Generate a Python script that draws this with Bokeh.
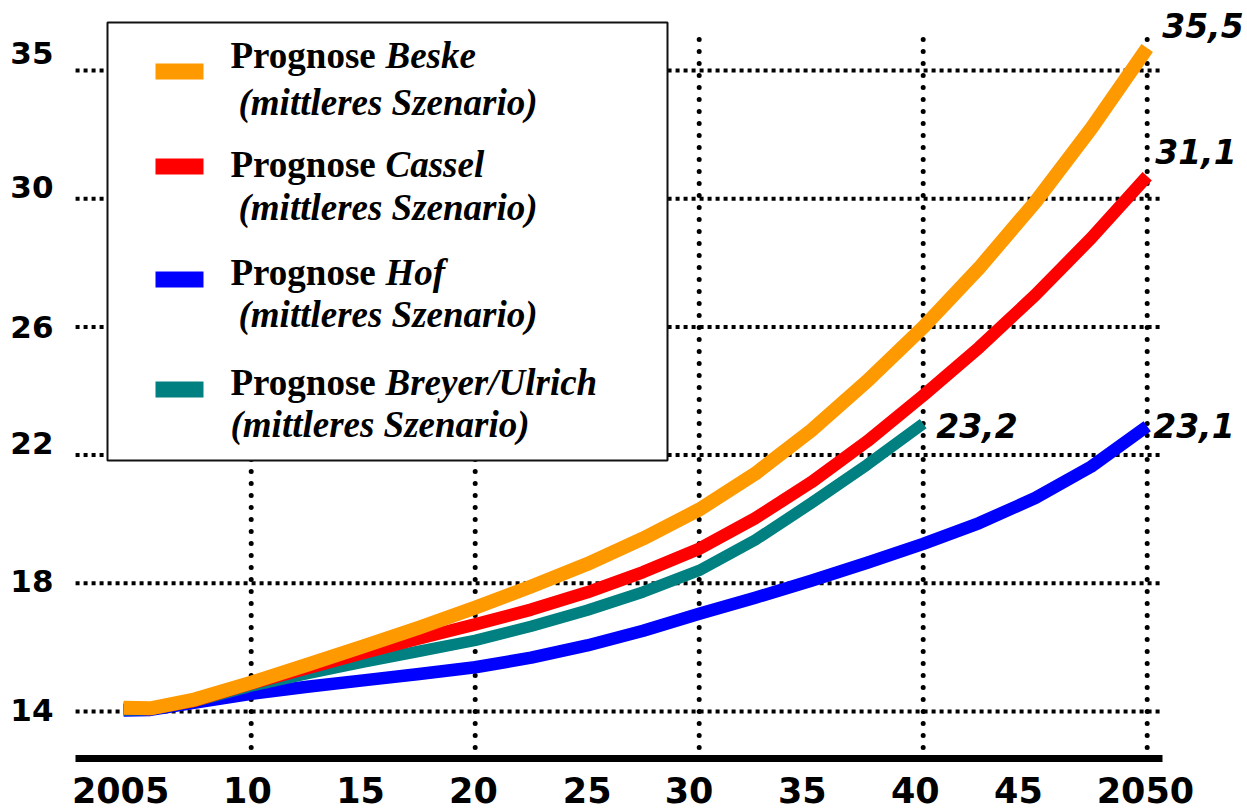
from bokeh.plotting import figure
from bokeh.models import Range1d, FixedTicker, Label, BoxAnnotation, ColumnDataSource
from bokeh.core.properties import value
from bokeh.embed import file_html
from bokeh.resources import INLINE

# ---------------- data ----------------
years = [2004.3, 2005.5, 2007.5, 2010, 2012.5, 2015, 2017.5, 2020, 2022.5, 2025, 2027.5,
         2030, 2032.5, 2035, 2037.5, 2040, 2042.5, 2045, 2047.5, 2050]
beske = [14.12, 14.1, 14.38, 14.9, 15.46, 16.03, 16.62, 17.24, 17.9, 18.6, 19.4,
         20.3, 21.42, 22.77, 24.31, 25.99, 27.84, 29.89, 32.19, 34.7]
cassel = [14.1, 14.08, 14.34, 14.87, 15.35, 15.83, 16.28, 16.72, 17.18, 17.72, 18.35,
          19.08, 20.03, 21.15, 22.43, 23.86, 25.36, 26.99, 28.77, 30.7]
hof = [14.03, 14.05, 14.28, 14.55, 14.77, 14.97, 15.17, 15.38, 15.68, 16.06, 16.52,
       17.05, 17.55, 18.08, 18.64, 19.23, 19.88, 20.66, 21.64, 22.9]
breyer_years = [2004.3, 2005.5, 2007.5, 2010, 2012.5, 2015, 2017.5, 2020, 2022.5, 2025, 2027.5,
                2030, 2032.5, 2035, 2037.5, 2040]
breyer = [14.05, 14.06, 14.32, 14.8, 15.18, 15.54, 15.88, 16.22, 16.66, 17.16, 17.73,
          18.4, 19.35, 20.5, 21.7, 22.98]

end_labels = ["35,5", "31,1", "23,2", "23,1"]

x_tick_pos = [2004.17, 2009.83, 2014.88, 2019.92, 2025.0, 2029.55, 2034.6, 2039.65, 2044.25, 2049.92]
x_tick_labels = ["2005", "10", "15", "20", "25", "30", "35", "40", "45", "2050"]
y_tick_pos = [14.06, 18.06, 22.39, 26.01, 30.35, 34.55]
y_tick_labels = ["14", "18", "22", "26", "30", "35"]

v_grid_years = [2010, 2020, 2030, 2040, 2050]
h_grid_levels = [14, 18, 22, 26, 30, 34]

series_names = ["Beske", "Cassel", "Hof", "Breyer/Ulrich"]
colors = ["#FF9900", "#FF0000", "#0000FF", "#008080"]

# ---------------- figure ----------------
BASE_Y = 12.534          # level of the thick base line
p = figure(width=1247, height=811, output_backend="svg", toolbar_location=None,
           x_range=Range1d(2001.710, 2054.478), y_range=Range1d(10.880, 36.184),
           min_border_left=65, min_border_right=0, min_border_top=0, min_border_bottom=0)
p.outline_line_color = None
p.xgrid.visible = False
p.ygrid.visible = False
p.background_fill_color = "white"

# dotted grid
GRID_X0, GRID_X1 = 2002.16, 2050.6
VGRID_Y0, VGRID_Y1 = 12.88, 35.0
p.segment(x0=[GRID_X0] * len(h_grid_levels), x1=[GRID_X1] * len(h_grid_levels),
          y0=h_grid_levels, y1=h_grid_levels, line_color="black", line_width=4,
          line_dash="4 4")
p.segment(x0=v_grid_years, x1=v_grid_years, y0=[VGRID_Y0] * len(v_grid_years),
          y1=[VGRID_Y1] * len(v_grid_years), line_color="black", line_width=5,
          line_dash="0 12", line_cap="round")

# series lines (blue at bottom, orange on top)
p.line(years, hof, line_color=colors[2], line_width=12.5, line_join="round")
p.line(breyer_years, breyer, line_color=colors[3], line_width=11.5, line_join="round")
p.line(years, cassel, line_color=colors[1], line_width=12.5, line_join="round")
p.line(years, beske, line_color=colors[0], line_width=14, line_join="round")

# end value labels
lab_src = ColumnDataSource(dict(
    x=[years[-1], years[-1], breyer_years[-1], years[-1]],
    y=[beske[-1], cassel[-1], breyer[-1], hof[-1]],
    text=end_labels,
    dx=[15, 8, 13, 6],
    dy=[-23, -25, 2, -1],
))
p.text(x="x", y="y", text="text", x_offset="dx", y_offset="dy", source=lab_src,
       text_font=value("DejaVu Sans"), text_font_style="bold italic",
       text_font_size="33px", text_color="black", text_baseline="alphabetic",
       text_align="left")

# axes
p.xaxis.fixed_location = BASE_Y
p.xaxis.ticker = FixedTicker(ticks=x_tick_pos)
p.xaxis.major_label_overrides = {(int(v) if float(v).is_integer() else v): t
                                 for v, t in zip(x_tick_pos, x_tick_labels)}
p.xaxis.axis_line_width = 7
p.xaxis.axis_line_color = "black"
p.xaxis.bounds = (2002.16, 2050.7)
p.xaxis.major_tick_line_color = None
p.xaxis.minor_tick_line_color = None
p.xaxis.major_tick_out = 0
p.xaxis.minor_tick_out = 0
p.xaxis.major_label_standoff = 19
p.xaxis.major_label_text_font = "DejaVu Sans"
p.xaxis.major_label_text_font_style = "bold"
p.xaxis.major_label_text_font_size = "35px"
p.xaxis.major_label_text_color = "black"

p.yaxis.ticker = FixedTicker(ticks=y_tick_pos)
p.yaxis.major_label_overrides = {(int(v) if float(v).is_integer() else v): t
                                 for v, t in zip(y_tick_pos, y_tick_labels)}
p.yaxis.axis_line_color = None
p.yaxis.major_tick_line_color = None
p.yaxis.minor_tick_line_color = None
p.yaxis.major_tick_out = 0
p.yaxis.minor_tick_out = 0
p.yaxis.major_label_standoff = 12
p.yaxis.major_label_text_font = "DejaVu Sans"
p.yaxis.major_label_text_font_style = "bold"
p.yaxis.major_label_text_font_size = "31px"
p.yaxis.major_label_text_color = "black"

# legend (drawn by hand, screen units relative to the frame's bottom-left)
p.add_layout(BoxAnnotation(left=42, right=602, top=789, bottom=351,
                           left_units="screen", right_units="screen",
                           top_units="screen", bottom_units="screen",
                           fill_color="white", fill_alpha=1.0,
                           line_color="#111111", line_alpha=1.0, line_width=2))
sw_top = [748, 653, 540, 430]
row_base = [756, 647, 539, 429]
sub_base = [709, 604, 497, 387]
sub_x = [173, 173, 173, 165]
for i, name in enumerate(series_names):
    p.add_layout(BoxAnnotation(left=90, right=138, top=sw_top[i], bottom=sw_top[i] - 16,
                               left_units="screen", right_units="screen",
                               top_units="screen", bottom_units="screen",
                               fill_color=colors[i], fill_alpha=1.0, line_color=None))
    p.add_layout(Label(x=165, y=row_base[i], x_units="screen", y_units="screen",
                       text="Prognose", text_font="Liberation Serif",
                       text_font_style="bold", text_font_size="37px",
                       text_baseline="alphabetic", text_color="black"))
    p.add_layout(Label(x=320, y=row_base[i], x_units="screen", y_units="screen",
                       text=name, text_font="Liberation Serif",
                       text_font_style="bold italic", text_font_size="37px",
                       text_baseline="alphabetic", text_color="black"))
    p.add_layout(Label(x=sub_x[i], y=sub_base[i], x_units="screen", y_units="screen",
                       text="(mittleres Szenario)", text_font="Liberation Serif",
                       text_font_style="bold italic", text_font_size="37px",
                       text_baseline="alphabetic", text_color="black"))

open("out.html", "w").write(file_html(p, INLINE))
